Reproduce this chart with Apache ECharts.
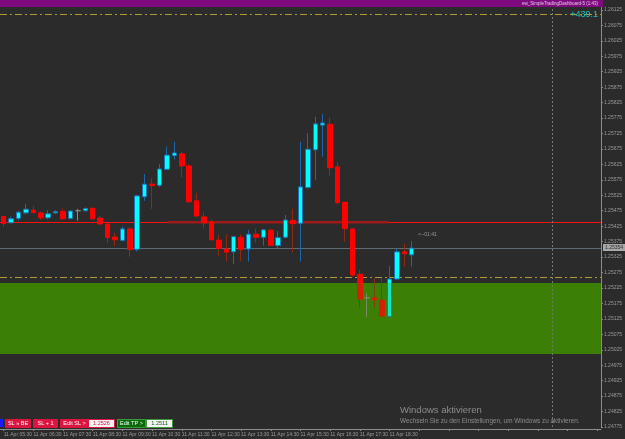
<!DOCTYPE html>
<html><head><meta charset="utf-8">
<script src="https://cdn.jsdelivr.net/npm/echarts@6/dist/echarts.min.js"></script>
<style>html,body{margin:0;padding:0;background:#2b2b2b;overflow:hidden}#c{width:625px;height:439px;}</style>
</head><body><div id="c"></div>
<script>
// ---- data (M15 candles, 11 Apr) ----
const times = ['11 Apr 05:30','11 Apr 05:45','11 Apr 06:00','11 Apr 06:15','11 Apr 06:30','11 Apr 06:45','11 Apr 07:00','11 Apr 07:15',
'11 Apr 07:30','11 Apr 07:45','11 Apr 08:00','11 Apr 08:15','11 Apr 08:30','11 Apr 08:45','11 Apr 09:00','11 Apr 09:15',
'11 Apr 09:30','11 Apr 09:45','11 Apr 10:00','11 Apr 10:15','11 Apr 10:30','11 Apr 10:45','11 Apr 11:00','11 Apr 11:15',
'11 Apr 11:30','11 Apr 11:45','11 Apr 12:00','11 Apr 12:15','11 Apr 12:30','11 Apr 12:45','11 Apr 13:00','11 Apr 13:15',
'11 Apr 13:30','11 Apr 13:45','11 Apr 14:00','11 Apr 14:15','11 Apr 14:30','11 Apr 14:45','11 Apr 15:00','11 Apr 15:15',
'11 Apr 15:30','11 Apr 15:45','11 Apr 16:00','11 Apr 16:15','11 Apr 16:30','11 Apr 16:45','11 Apr 17:00','11 Apr 17:15',
'11 Apr 17:30','11 Apr 17:45','11 Apr 18:00','11 Apr 18:15','11 Apr 18:30','11 Apr 18:45','11 Apr 19:00','11 Apr 19:15'];
const openP = [1.25456,1.25436,1.25450,1.25468,1.25477,1.25468,1.25452,1.25468,1.25473,1.25450,
1.25475,1.25475,1.25483,1.25451,1.25432,1.25390,1.25379,1.25416,1.25350,1.25520,
1.25561,1.25557,1.25609,1.25653,1.25659,1.25620,1.25507,1.25455,1.25439,1.25380,
1.25351,1.25342,1.25389,1.25351,1.25399,1.25389,1.25412,1.25362,1.25389,1.25444,
1.25434,1.25550,1.25672,1.25752,1.25755,1.25617,1.25502,1.25416,1.25269,1.25193,
1.25193,1.25185,1.25132,1.25254,1.25342,1.25332];
const closeP = [1.25434,1.25449,1.25470,1.25480,1.25469,1.25452,1.25465,1.25472,1.25449,1.25474,
1.25475,1.25482,1.25449,1.25432,1.25388,1.25381,1.25416,1.25349,1.25523,1.25561,
1.25556,1.25610,1.25655,1.25662,1.25620,1.25504,1.25458,1.25436,1.25381,1.25353,
1.25341,1.25391,1.25350,1.25399,1.25389,1.25413,1.25363,1.25388,1.25445,1.25433,
1.25552,1.25674,1.25756,1.25759,1.25614,1.25501,1.25417,1.25267,1.25189,1.25193,
1.25186,1.25134,1.25254,1.25342,1.25336,1.25354];
const highP = [1.25458,1.25456,1.25475,1.25497,1.25490,1.25473,1.25477,1.25477,1.25482,1.25477,
1.25481,1.25486,1.25485,1.25458,1.25434,1.25404,1.25423,1.25421,1.25526,1.25594,
1.25580,1.25626,1.25682,1.25698,1.25666,1.25625,1.25533,1.25470,1.25447,1.25396,
1.25399,1.25394,1.25399,1.25413,1.25416,1.25416,1.25416,1.25409,1.25461,1.25481,
1.25698,1.25726,1.25779,1.25788,1.25776,1.25632,1.25504,1.25418,1.25283,1.25208,
1.25256,1.25256,1.25296,1.25351,1.25368,1.25377];
const lowP = [1.25423,1.25434,1.25443,1.25464,1.25467,1.25445,1.25447,1.25464,1.25445,1.25447,
1.25443,1.25472,1.25447,1.25429,1.25370,1.25361,1.25375,1.25326,1.25342,1.25507,
1.25481,1.25551,1.25607,1.25641,1.25583,1.25500,1.25454,1.25418,1.25379,1.25329,
1.25312,1.25303,1.25312,1.25310,1.25370,1.25362,1.25361,1.25353,1.25386,1.25340,
1.25310,1.25545,1.25574,1.25650,1.25588,1.25494,1.25375,1.25261,1.25159,1.25132,
1.25159,1.25132,1.25111,1.25251,1.25294,1.25294];

const emptySlots = 25;              // chart shift area to the right
const yMin = 1.24775, yMax = 1.26157, yStep = 0.0005;
const levelTop = 1.26111;           // upper dash-dot level
const levelRed = 1.25438;           // red horizontal line
const levelBid = 1.25354;           // bid line
const levelSL  = 1.25260;           // stop loss dash-dot
const zoneTop = 1.25241, zoneBottom = 1.25011;
const trendIdx = [22, 52], trendPrice = 1.25438;
const vLineIdx = 74;
const slText = '1.2526', tpText = '1.2511';

// ---- build ----
const cats = times.concat(new Array(emptySlots).fill(''));
const wickData = [], bodyData = [];
for (let i = 0; i < openP.length; i++) {
  const o = openP[i], c = closeP[i];
  const doji = o === c;
  const col = '#8a8a8a';
  const w = { value: [o, c, lowP[i], highP[i]] };
  const b = { value: [o, c, Math.min(o, c), Math.max(o, c)] };
  if (doji) {
    w.itemStyle = { color: col, color0: col, borderColor: col, borderColor0: col };
    b.itemStyle = { color: col, color0: col, borderColor: col, borderColor0: col };
  }
  wickData.push(w); bodyData.push(b);
}

const chart = echarts.init(document.getElementById('c'), null, { renderer: 'canvas' });
const FONT = 'Liberation Sans';
const dashDot = [7, 3, 2, 3];

function btn(x, w, fill, text, tcol, stroke) {
  return {
    type: 'group', left: x, top: 419, z: 10,
    children: [
      { type: 'rect', shape: { x: 0, y: 0, width: w, height: 8 }, style: { fill: fill, stroke: stroke || fill, lineWidth: 1 } },
      { type: 'text', style: { x: w / 2, y: 4, text: text, fill: tcol, font: '5.5px ' + FONT, textAlign: 'center', textVerticalAlign: 'middle' } }
    ]
  };
}

chart.setOption({
  backgroundColor: '#2b2b2b',
  animation: false,
  grid: { left: 0, right: 22, top: 0, bottom: 12, containLabel: false },
  xAxis: {
    type: 'category', data: cats, boundaryGap: true, offset: 2,
    axisLine: { lineStyle: { color: '#8c8c8c', width: 1 } },
    axisTick: { show: true, interval: 3, alignWithLabel: true, length: 2, lineStyle: { color: '#8c8c8c' } },
    axisLabel: { interval: 3, color: '#9a9a9a', fontSize: 5, fontFamily: FONT, align: 'left', margin: 3 },
    splitLine: { show: false }
  },
  yAxis: {
    type: 'value', position: 'right', min: yMin, max: yMax, interval: yStep,
    axisLine: { show: true, lineStyle: { color: '#8c8c8c' } },
    axisTick: { show: true, length: 2, lineStyle: { color: '#8c8c8c' } },
    axisLabel: { color: '#9a9a9a', fontSize: 5, fontFamily: FONT, margin: 3, showMaxLabel: false,
      formatter: v => v.toFixed(5) },
    splitLine: { show: false }
  },
  series: [
    { name: 'wicks', type: 'candlestick', data: wickData, barWidth: 1, z: 2,
      itemStyle: { color: '#1f66a8', color0: '#8e2a12', borderColor: '#1f66a8', borderColor0: '#8e2a12', borderWidth: 1 },
      markArea: { silent: true, z: 1, itemStyle: { color: '#3a7c02' },
        data: [[{ yAxis: zoneTop }, { yAxis: zoneBottom }]] },
      markLine: { silent: true, symbol: 'none', precision: 6, z: 1.5,
        data: [
          { yAxis: levelTop, lineStyle: { color: '#b49a32', type: dashDot, width: 1 }, label: { show: false } },
          { yAxis: levelRed, lineStyle: { color: '#ff1010', type: 'solid', width: 1 }, label: { show: false } },
          { yAxis: levelBid, lineStyle: { color: '#5d6b78', type: 'solid', width: 1 }, label: { show: false } },
          { yAxis: levelSL, lineStyle: { color: '#b49a32', type: dashDot, width: 1 }, label: { show: false } },
          { xAxis: vLineIdx, lineStyle: { color: '#777777', type: [2, 2], width: 1 }, label: { show: false } }
        ] } },
    { name: 'trend', type: 'line', z: 1.8, symbol: 'none', silent: true,
      data: [[trendIdx[0], trendPrice], [trendIdx[1], trendPrice]],
      lineStyle: { color: '#9c1a1a', width: 2.5 } },
    { name: 'bodies', type: 'candlestick', data: bodyData, barWidth: 5, z: 3,
      itemStyle: { color: '#00ffff', color0: '#ff0000', borderColor: '#1a74b4', borderColor0: '#ff0000', borderWidth: 1 },
      markArea: { silent: true, z: 4, itemStyle: { color: 'rgba(70,140,20,0.22)' },
        data: [[{ yAxis: zoneTop }, { yAxis: zoneBottom }]] } }
  ],
  graphic: [
    { type: 'rect', left: 0, top: 0, z: 10, shape: { width: 603, height: 7 }, style: { fill: '#7f0a80' } },
    { type: 'text', right: 27, top: 1, z: 11, style: { text: 'ew_SimpleTradingDashboard-5 (1:43)', fill: '#e0c8e0', font: '4.5px ' + FONT } },
    { type: 'text', right: 27, top: 10, z: 11, style: { text: '+439.1', fill: '#20c0c0', font: '9px ' + FONT } },
    { type: 'rect', left: 603, top: 244, z: 10, shape: { width: 22, height: 7 }, style: { fill: '#a8a8a8' } },
    { type: 'text', left: 605, top: 245, z: 11, style: { text: levelBid.toFixed(5), fill: '#2b2b2b', font: '5px ' + FONT } },
    { type: 'text', left: 418, top: 232, z: 11, style: { text: '<--01:41', fill: '#9a9a9a', font: '5px ' + FONT } },
    { type: 'text', left: 400, top: 405, z: 11, style: { text: 'Windows aktivieren', fill: '#8c8c8c', font: '9.5px ' + FONT } },
    { type: 'text', left: 400, top: 418, z: 11, style: { text: 'Wechseln Sie zu den Einstellungen, um Windows zu aktivieren.', fill: '#8c8c8c', font: '6.4px ' + FONT } },
    { type: 'rect', left: 0, top: 419, z: 10, shape: { width: 3, height: 8 }, style: { fill: '#1a1aff' } },
    btn(5, 25, '#dc1440', 'SL » BE', '#ffffff'),
    btn(33, 24, '#dc1440', 'SL + 1', '#ffffff'),
    btn(60, 28, '#dc1440', 'Edit SL >', '#ffffff'),
    btn(88, 26, '#f4f4f4', slText, '#dc1440', '#dc1440'),
    btn(117, 28, '#0a6a0a', 'Edit TP >', '#ffffff', '#3a9a3a'),
    btn(146, 26, '#f4f4f4', tpText, '#0a5a0a', '#3a9a3a')
  ]
});
</script>
</body></html>
